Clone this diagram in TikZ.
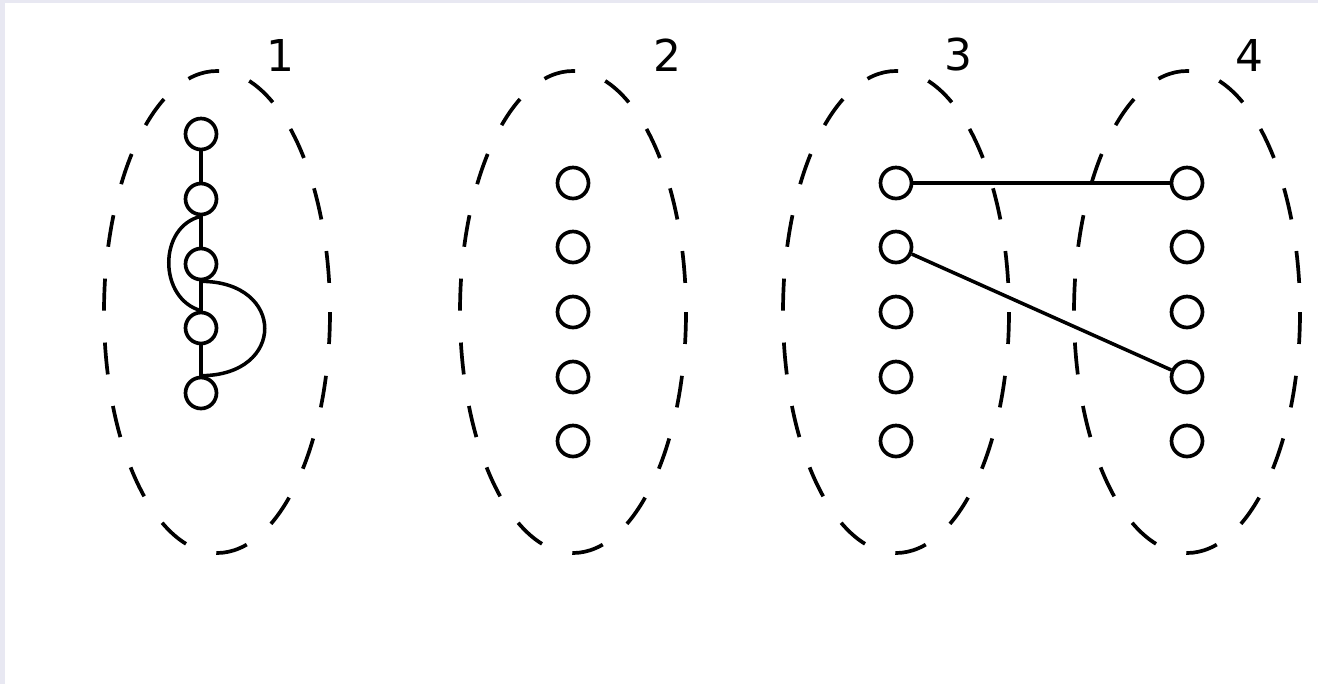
\documentclass[tikz,border=0pt]{standalone}
\usepackage{fontspec}
\setmainfont{DejaVu Sans}
\usetikzlibrary{positioning, calc}

\definecolor{frame}{HTML}{E8E8F2}

\tikzset{
    vertex/.style={circle, draw, fill=white, minimum size=0.62cm, inner sep=0pt, line width=2.1pt},
    part/.style={dash pattern=on 0.64cm off 0.64cm, line width=2.1pt},
    edge/.style={line width=2pt},
    setlabel/.style={font=\fontsize{25}{30}\selectfont}
}

\begin{document}
\begin{tikzpicture}[x=0.02cm, y=-0.02cm]

    % Page frame
    \useasboundingbox (0,0) rectangle (1318,684);
    \fill[frame] (0,0) rectangle (1318,684);
    \fill[white] (5,3) rectangle (1318,684);

    % Dashed ellipses for the four sets
    \draw[part] (217,312) ellipse [x radius=113, y radius=241];
    \draw[part] (573,312) ellipse [x radius=113, y radius=241];
    \draw[part] (896,312) ellipse [x radius=113, y radius=241];
    \draw[part] (1187,312) ellipse [x radius=113, y radius=241];

    % Set labels
    \node[setlabel] (l1) at (280,55) {1};
    \node[setlabel] (l2) at (667,55) {2};
    \node[setlabel] (l3) at (958,55) {3};
    \node[setlabel] (l4) at (1249,55) {4};

    % Vertices of set 1 (chain) and sets 2, 3, 4
    \foreach \i/\y in {1/134, 2/199, 3/264, 4/328, 5/393}
        \node[vertex] (a\i) at (201,\y) {};
    \foreach \i/\y in {1/183, 2/247, 3/312, 4/377, 5/441} {
        \node[vertex] (b\i) at (573,\y) {};
        \node[vertex] (c\i) at (896,\y) {};
        \node[vertex] (d\i) at (1187,\y) {};
    }

    % Edges inside set 1
    \foreach \i/\j in {1/2, 2/3, 3/4, 4/5}
        \draw[edge] (a\i) -- (a\j);
    \draw[edge] (a2.south) .. controls +(-43,10) and +(-43,-12) .. (a4.north);
    \draw[edge] (a3.south) .. controls +(85,0) and +(85,0) .. (a5.north);

    % Edges between set 3 and set 4
    \draw[edge] (c1) -- (d1);
    \draw[edge] (c2) -- (d4);

\end{tikzpicture}
\end{document}
